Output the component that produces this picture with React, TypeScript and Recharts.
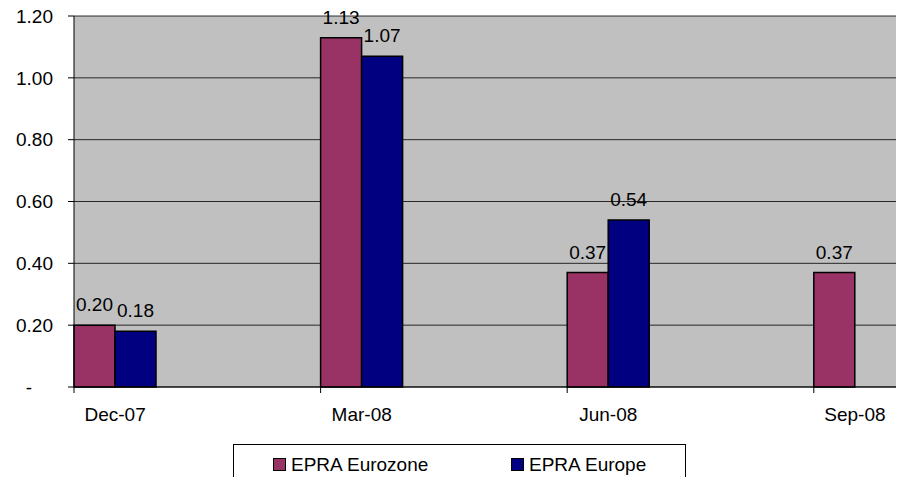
import React from "react";
import { BarChart, Bar, XAxis, YAxis, CartesianGrid, LabelList } from "recharts";

// monthly date axis, values only at quarter ends
const months = [
  "Dec-07", "Jan-08", "Feb-08", "Mar-08", "Apr-08",
  "May-08", "Jun-08", "Jul-08", "Aug-08", "Sep-08",
];
const quarterTicks = ["Dec-07", "Mar-08", "Jun-08", "Sep-08"];
const eurozone = [0.2, null, null, 1.13, null, null, 0.37, null, null, 0.37];
const europe = [0.18, null, null, 1.07, null, null, 0.54, null, null, null];
const yTicks = [0, 0.2, 0.4, 0.6, 0.8, 1.0, 1.2];

const data = months.map((m, i) => ({
  month: m,
  eurozone: eurozone[i],
  europe: europe[i],
}));

const FONT = "'Liberation Sans', Arial, sans-serif";
const FS = 19;
const EUROZONE = "#993366";
const EUROPE = "#000080";

const MonthTick = (props: any) => {
  const { x, y, payload } = props;
  const half = payload.offset ?? 0;
  return (
    <g>
      <line x1={x - half} x2={x - half} y1={y - 21} y2={y - 15} stroke="#000" />
      <text x={x} y={y} dy="0.71em" textAnchor="middle" fill="#000" fontSize={FS}>
        {payload.value}
      </text>
    </g>
  );
};

const ValueTick = (props: any) => {
  const { x, y, payload } = props;
  const zero = payload.value === 0;
  return (
    <text x={zero ? x - 21 : x} y={y} dy="0.355em" textAnchor="end" fill="#000" fontSize={FS}>
      {zero ? "-" : Number(payload.value).toFixed(2)}
    </text>
  );
};

const renderValue = (props: any) => {
  const { x, y, width, value } = props;
  if (value == null) return null;
  return (
    <text x={x + width / 2} y={y - 14} textAnchor="middle" fill="#000" fontSize={FS}>
      {Number(value).toFixed(2)}
    </text>
  );
};

const LegendItem = ({ color, label, left }: { color: string; label: string; left: number }) => (
  <div style={{ position: "absolute", left, top: 10, display: "flex", alignItems: "center" }}>
    <span
      style={{
        width: 11,
        height: 11,
        background: color,
        border: "1px solid #000",
        marginRight: 5,
      }}
    />
    <span style={{ fontSize: FS, lineHeight: "19px", color: "#000" }}>{label}</span>
  </div>
);

export default function App() {
  return (
    <div
      style={{
        position: "absolute",
        left: 0,
        top: 0,
        width: 905,
        height: 477,
        overflow: "hidden",
        background: "#fff",
        fontFamily: FONT,
      }}
    >
      <BarChart
        width={905}
        height={477}
        data={data}
        margin={{ top: 16, right: 9, bottom: 60, left: 0 }}
        barCategoryGap={0}
        barGap={0}
        style={{ fontFamily: FONT }}
      >
        <CartesianGrid vertical={false} fill="#C0C0C0" stroke="#000" strokeOpacity={0.8} />
        <XAxis
          dataKey="month"
          ticks={quarterTicks}
          interval={0}
          tickLine={false}
          tickSize={6}
          tickMargin={15}
          height={30}
          axisLine={{ stroke: "#000" }}
          tick={<MonthTick />}
        />
        <XAxis
          xAxisId="top"
          dataKey="month"
          orientation="top"
          height={0}
          tick={false}
          tickLine={false}
          axisLine={{ stroke: "#808080", strokeWidth: 2 }}
        />
        <YAxis
          domain={[0, 1.2]}
          ticks={yTicks}
          width={74}
          tickSize={6}
          tickMargin={15}
          tickLine={{ stroke: "#000" }}
          axisLine={{ stroke: "#000" }}
          tick={<ValueTick />}
        />
        <YAxis
          yAxisId="right"
          orientation="right"
          domain={[0, 1.2]}
          width={0}
          tick={false}
          tickLine={false}
          axisLine={{ stroke: "#808080", strokeWidth: 2 }}
        />
        <Bar dataKey="eurozone" name="EPRA Eurozone" fill={EUROZONE} stroke="#000" strokeWidth={1.5} isAnimationActive={false}>
          <LabelList dataKey="eurozone" content={renderValue} />
        </Bar>
        <Bar dataKey="europe" name="EPRA Europe" fill={EUROPE} stroke="#000" strokeWidth={1.5} isAnimationActive={false}>
          <LabelList dataKey="europe" content={renderValue} />
        </Bar>
      </BarChart>
      <div
        style={{
          position: "absolute",
          left: 233,
          top: 444,
          width: 451,
          height: 60,
          border: "1px solid #000",
          background: "#fff",
        }}
      >
        <LegendItem color={EUROZONE} label="EPRA Eurozone" left={39} />
        <LegendItem color={EUROPE} label="EPRA Europe" left={277} />
      </div>
    </div>
  );
}
